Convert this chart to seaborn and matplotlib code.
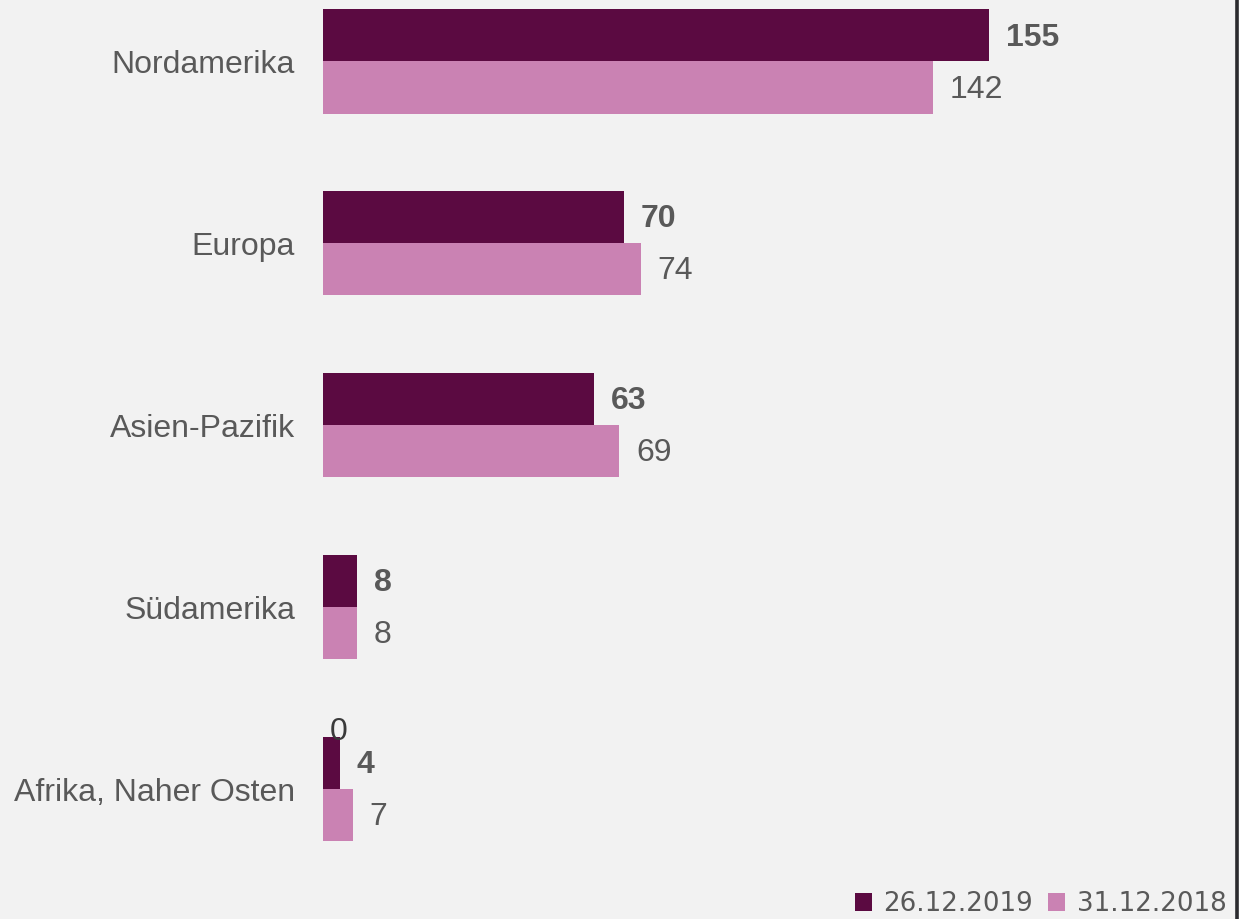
import pandas as pd
import matplotlib.pyplot as plt
import seaborn as sns
from matplotlib.patches import Patch, Rectangle
from matplotlib.lines import Line2D

# Daten
regions = ['Nordamerika', 'Europa', 'Asien-Pazifik', 'Südamerika', 'Afrika, Naher Osten']
vals_2019 = [155, 70, 63, 8, 4]
vals_2018 = [142, 74, 69, 8, 7]
series = ['26.12.2019', '31.12.2018']
colors = ['#5b0a41', '#ca82b3']

df = pd.DataFrame({
    'Region': regions * 2,
    'Wert': vals_2019 + vals_2018,
    'Datum': [series[0]] * len(regions) + [series[1]] * len(regions),
})

sns.set_style('white')
plt.rcParams['font.family'] = ['Liberation Sans', 'DejaVu Sans']

bg = '#f2f2f2'
grey = '#595959'

fig = plt.figure(figsize=(12.5, 9.19), dpi=100, facecolor=bg)
ax = fig.add_axes([323 / 1250, 1 - 880 / 919, (1235 - 323) / 1250, 880 / 919])
ax.set_facecolor(bg)

sns.barplot(data=df, x='Wert', y='Region', hue='Datum', orient='h',
            palette=colors, width=0.572, saturation=1, ax=ax, legend=False,
            linewidth=0)

ax.set_xlim(0, (1235 - 323) / 4.297)
ax.set_ylim(4.5, -0.338)

# Werte an den Balken
for i, cont in enumerate(ax.containers):
    labels = ax.bar_label(cont, padding=12, fontsize=23, color=grey,
                          fontweight='bold' if i == 0 else 'normal')
    for t in labels:
        t.xyann = (12, -1.5)

# verirrte Null über Afrika
ax.text(3.6, 4 - 0.286 + 0.055, '0', fontsize=23, color='#3a3a3a', ha='center', va='bottom')

ax.set_xlabel('')
ax.set_ylabel('')
ax.set_xticks([])
ax.tick_params(axis='y', length=0, pad=20, labelsize=23, labelcolor=grey)
for s in ax.spines.values():
    s.set_visible(False)

# Legende
handles = [Patch(facecolor=c, edgecolor='none', label=l) for c, l in zip(colors, series)]
fig.legend(handles=handles, loc='lower right', bbox_to_anchor=(1242 / 1250, -0.015),
           ncol=2, frameon=False, handlelength=0.66, handleheight=0.66,
           handletextpad=0.45, columnspacing=0.55, borderaxespad=0.2,
           prop={'family': 'DejaVu Sans', 'size': 18.8}, labelcolor=grey)

# rechter Rand
fig.add_artist(Rectangle((1239 / 1250, 0), 11 / 1250, 1, transform=fig.transFigure,
                         facecolor='white', edgecolor='none'))
fig.add_artist(Line2D([1236.5 / 1250, 1236.5 / 1250], [0, 1], transform=fig.transFigure,
                      color='#2b2b2f', linewidth=2.6))

fig.savefig('out.png', dpi=100, facecolor=bg)
